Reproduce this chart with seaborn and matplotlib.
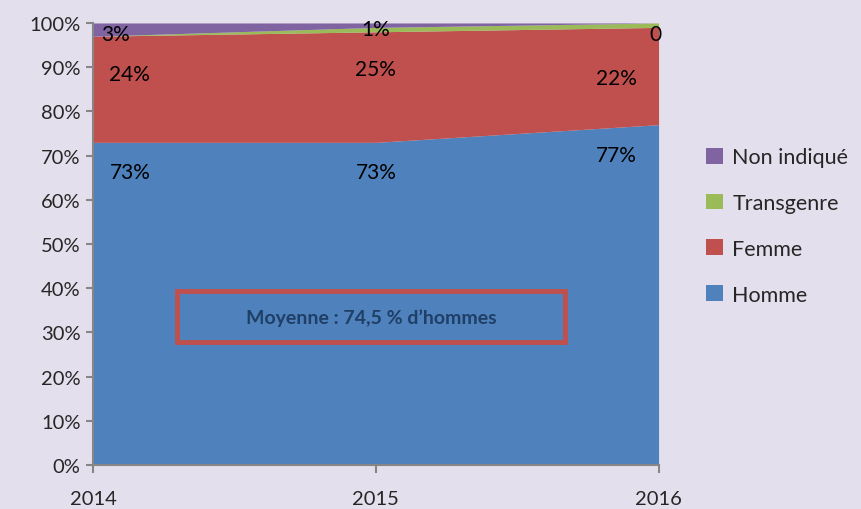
import matplotlib
matplotlib.use("Agg")
import matplotlib.pyplot as plt
import seaborn as sns
import numpy as np
from matplotlib.patches import Rectangle

years = [2014, 2015, 2016]
homme = [73, 73, 77]
femme = [24, 25, 22]
transgenre = [0, 1, 1]
non_indique = [3, 1, 0]
homme_labels = ["73%", "73%", "77%"]
femme_labels = ["24%", "25%", "22%"]
non_labels = ["3%", "1%", "0"]
series_names = ["Homme", "Femme", "Transgenre", "Non indiqué"]
yticks = list(range(0, 101, 10))
note = "Moyenne : 74,5 % d\u2019hommes"

bg = "#E4DFEC"
colors = ["#4F81BD", "#C0504D", "#9BBB59", "#8064A2"]

sns.set_theme(style="white")
plt.rcParams['font.family'] = ['Lato', 'DejaVu Sans']

fig = plt.figure(figsize=(8.62, 5.10), dpi=100, facecolor=bg)
ax = fig.add_axes([0.108, 0.086, 0.656, 0.867])
ax.set_facecolor(bg)

ax.stackplot(years, homme, femme, transgenre, non_indique,
             colors=colors, labels=series_names, linewidth=0)

ax.set_xlim(2014, 2016)
ax.set_ylim(0, 100)
ax.set_yticks(yticks)
ax.set_yticklabels([f"{t}%" for t in yticks], fontsize=14.5)
ax.set_xticks(years)
ax.set_xticklabels([str(y) for y in years], fontsize=14.5)

for s in ["top", "right"]:
    ax.spines[s].set_visible(False)
for s in ["left", "bottom"]:
    ax.spines[s].set_color("#868686")
    ax.spines[s].set_linewidth(1.5)
    ax.spines[s].set_zorder(5)
ax.tick_params(axis="y", direction="out", length=5, color="#868686", width=1.5, pad=4, left=True)
ax.tick_params(axis="x", direction="out", length=6, color="#868686", width=1.5, pad=12, bottom=True)

xoff = [0.13, 0.0, -0.15]
h = np.array(homme, float)
f = np.array(femme, float)
for i, yr in enumerate(years):
    ax.text(yr + xoff[i], h[i] - 6.8, homme_labels[i], ha="center", va="center", fontsize=15, color="black")
    ax.text(yr + xoff[i], h[i] + f[i] - 8.5 - (3 if i == 2 else 0), femme_labels[i],
            ha="center", va="center", fontsize=15, color="black")
nx = [2014.08, 2015.0, 2015.99]
ny = [97.6, 98.6, 97.6]
for i in range(3):
    ax.text(nx[i], ny[i], non_labels[i], ha="center", va="center", fontsize=15, color="black", zorder=6)

# note box
rect = Rectangle((2014.295, 27.8), 1.375, 11.5, fill=False, edgecolor="#C0504D", linewidth=3.5, zorder=6)
ax.add_patch(rect)
ax.text(2014.295 + 1.375 / 2, 27.8 + 5.75, note, ha="center", va="center", fontsize=14,
        fontweight="bold", color="#1F3F66", zorder=7)

handles, labels = ax.get_legend_handles_labels()
leg = fig.legend(handles[::-1], labels[::-1], loc="center left", bbox_to_anchor=(0.797, 0.555),
                 frameon=False, fontsize=15.5, handlelength=0.75, handleheight=0.75,
                 labelspacing=1.2, handletextpad=0.45)

fig.savefig("out.png", dpi=100, facecolor=bg)
